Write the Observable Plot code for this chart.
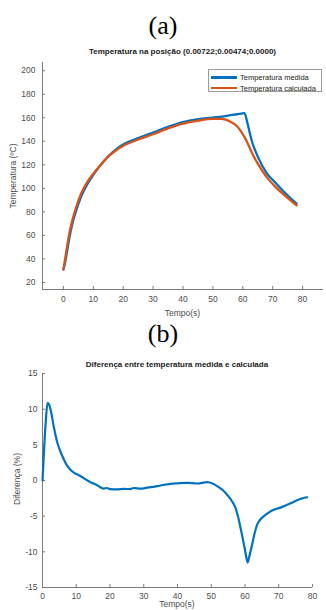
<!DOCTYPE html>
<html>
<head>
<meta charset="utf-8">
<script src="https://cdn.jsdelivr.net/npm/d3@7"></script>
<script src="https://cdn.jsdelivr.net/npm/@observablehq/plot@0.6"></script>
<style>
  body { margin:0; width:326px; height:610px; position:relative; overflow:hidden; background:#fff; font-family:"Liberation Sans", Arial, sans-serif; }
  .abs { position:absolute; white-space:nowrap; }
  .panel { font-family:"Liberation Serif", "Times New Roman", serif; font-size:26px; line-height:26px; width:326px; left:0; text-align:center; color:#000; }
  .title { font-weight:bold; font-size:8px; line-height:10px; color:#1a1a1a; text-align:center; }
  .lab { font-size:8.5px; line-height:10px; color:#4d4d4d; text-align:center; }
  .ylab { width:200px; transform:rotate(-90deg); transform-origin:center center; }
  svg { position:absolute; left:0; }
</style>
</head>
<body>
<script>
// ---- Data ----
// (a) temperature at position
const timeA = [0, 0.5, 1, 2, 3, 4, 6, 8, 10, 12, 15, 18, 21, 25, 30, 35, 40, 45, 50, 53, 56, 58, 60, 60.6, 61.5, 63, 65, 68, 71, 74, 78];
const tempMeasured = [31, 36, 43, 58, 70, 79, 93.5, 103.5, 111.5, 118.5, 127.3, 134, 138.7, 142.8, 147.4, 152.4, 156.4, 158.8, 160.2, 161, 162.3, 163, 163.8, 164, 156, 140.5, 127, 113, 104.5, 96.5, 87];
const tempCalculated = [31, 39, 47, 62, 73, 82, 96, 105.5, 112.5, 118.5, 127, 133, 137.5, 141.5, 146, 151, 155, 157.5, 159, 159, 156.5, 153, 146, 143.5, 139, 130.5, 121, 109.5, 101, 94, 85.5];
const seriesNames = ["Temperatura medida", "Temperatura calculada"];
const xTicksA = [0, 10, 20, 30, 40, 50, 60, 70, 80];
const yTicksA = [20, 40, 60, 80, 100, 120, 140, 160, 180, 200];
const xDomainA = [-7, 87];
const yDomainA = [14, 207];

// (b) difference (%)
const timeB = [0, 0.5, 1, 1.5, 2, 2.5, 3.4, 4.4, 5.2, 5.9, 7.4, 8.5, 9.4, 10.5, 11.3, 12.3, 13.3, 14.5, 15.8, 17, 18.2, 19, 20, 22, 24.1, 26, 27, 29.1, 31, 34, 36, 38, 40, 42.9, 45.9, 48.8, 50.5, 51.8, 53.3, 54.7, 56, 57.2, 58, 58.7, 59.4, 59.9, 60.4, 60.8, 61.3, 62.1, 62.8, 63.6, 64.5, 65.6, 67, 68.5, 70.5, 72.5, 74, 75.4, 77, 78.4];
const diffPct = [0, 4.6, 8.5, 10.9, 10.6, 9.7, 7.4, 5.3, 4.2, 3.4, 2.0, 1.4, 1.07, 0.8, 0.6, 0.3, 0.0, -0.3, -0.56, -0.9, -1.13, -1.05, -1.2, -1.25, -1.18, -1.2, -1.05, -1.15, -1.0, -0.8, -0.6, -0.47, -0.4, -0.33, -0.42, -0.24, -0.45, -0.8, -1.3, -2.0, -2.8, -3.85, -5.2, -6.7, -8.3, -9.5, -10.8, -11.5, -10.6, -9.0, -7.5, -6.2, -5.5, -5.0, -4.5, -4.1, -3.8, -3.4, -3.1, -2.77, -2.5, -2.35];
const xTicksB = [0, 10, 20, 30, 40, 50, 60, 70, 80];
const yTicksB = [-15, -10, -5, 0, 5, 10, 15];
const xDomainB = [0, 80];
const yDomainB = [-15, 15];

const colors = ["#0072BD", "#D95319"];
const axisColor = "#7a7a7a";
const textColor = "#4d4d4d";

// ---- Build (a) ----
const dataA = [];
timeA.forEach((t, i) => {
  dataA.push({t, v: tempMeasured[i], s: seriesNames[0]});
});
timeA.forEach((t, i) => {
  dataA.push({t, v: tempCalculated[i], s: seriesNames[1]});
});

const fmt = d => String(d);

const plotA = Plot.plot({
  width: 326, height: 275,
  marginTop: 17, marginBottom: 31, marginLeft: 42, marginRight: 3,
  style: {fontFamily: "Liberation Sans, Arial, sans-serif", fontSize: "8.5px", color: textColor, background: "transparent", overflow: "visible"},
  x: {domain: xDomainA, label: null},
  y: {domain: yDomainA, label: null},
  marks: [
    Plot.axisX({ticks: xTicksA, tickSize: 3, dy: -3, tickFormat: () => "", label: null, stroke: axisColor}),
    Plot.axisX({ticks: xTicksA, tickSize: 0, tickPadding: 6, tickFormat: fmt, label: null, fill: textColor}),
    Plot.axisY({ticks: yTicksA, tickSize: 3, dx: 3, tickFormat: () => "", label: null, stroke: axisColor}),
    Plot.axisY({ticks: yTicksA, tickSize: 0, tickPadding: 7, tickFormat: fmt, label: null, fill: textColor}),
    Plot.ruleX([xDomainA[0]], {stroke: axisColor}),
    Plot.ruleY([yDomainA[0]], {stroke: axisColor}),
    Plot.line(dataA, {x: "t", y: "v", z: "s", stroke: d => d.s === seriesNames[0] ? colors[0] : colors[1], strokeWidth: 2.3, curve: "monotone-x"})
  ]
});
plotA.style.top = "45px";
document.body.appendChild(plotA);

// ---- Build (b) ----
const dataB = timeB.map((t, i) => ({t, v: diffPct[i]}));
const plotB = Plot.plot({
  width: 326, height: 260,
  marginTop: 23, marginBottom: 23, marginLeft: 42, marginRight: 14,
  style: {fontFamily: "Liberation Sans, Arial, sans-serif", fontSize: "8.5px", color: textColor, background: "transparent", overflow: "visible"},
  x: {domain: xDomainB, label: null},
  y: {domain: yDomainB, label: null},
  marks: [
    Plot.axisX({ticks: xTicksB, tickSize: 3, dy: -3, tickFormat: () => "", label: null, stroke: axisColor}),
    Plot.axisX({ticks: xTicksB, tickSize: 0, tickPadding: 5, tickFormat: fmt, label: null, fill: textColor}),
    Plot.axisY({ticks: yTicksB, tickSize: 3, dx: 3, tickFormat: () => "", label: null, stroke: axisColor}),
    Plot.axisY({ticks: yTicksB, tickSize: 0, tickPadding: 5, tickFormat: fmt, label: null, fill: textColor}),
    Plot.ruleX([xDomainB[0]], {stroke: axisColor}),
    Plot.ruleY([yDomainB[0]], {stroke: axisColor}),
    Plot.line(dataB, {x: "t", y: "v", stroke: colors[0], strokeWidth: 2.2, curve: "monotone-x"})
  ]
});
plotB.style.top = "350px";
document.body.appendChild(plotB);

// ---- Text ----
function addDiv(cls, text, css) {
  const d = document.createElement("div");
  d.className = "abs " + cls;
  d.textContent = text;
  Object.assign(d.style, css);
  document.body.appendChild(d);
  return d;
}
addDiv("panel", "(a)", {top: "13px"});
addDiv("panel", "(b)", {top: "321px"});
addDiv("title", "Temperatura na posição (0.00722;0.00474;0.0000)", {left: "42px", width: "281px", top: "47px"});
addDiv("title", "Diferença entre temperatura medida e calculada", {left: "42px", width: "270px", top: "360px"});
addDiv("lab", "Tempo(s)", {left: "42px", width: "281px", top: "308px"});
addDiv("lab", "Tempo(s)", {left: "42px", width: "270px", top: "599px"});
addDiv("lab ylab", "Temperatura (ºC)", {left: (13 - 100) + "px", top: (176 - 5) + "px"});
addDiv("lab ylab", "Diferença (%)", {left: (17 - 100) + "px", top: (479 - 5) + "px"});

// legend
const leg = document.createElement("div");
leg.className = "abs";
Object.assign(leg.style, {left: "208px", top: "69px", width: "114px", height: "23px", border: "1px solid #9a9a9a", background: "#fff", boxSizing: "border-box"});
seriesNames.forEach((name, i) => {
  const row = document.createElement("div");
  Object.assign(row.style, {position: "absolute", left: "2px", top: (3 + i * 10.5) + "px", height: "9px", display: "flex", alignItems: "center", whiteSpace: "nowrap"});
  const sw = document.createElement("div");
  Object.assign(sw.style, {width: "26px", height: "2.3px", background: colors[i], marginRight: "3px"});
  const tx = document.createElement("span");
  tx.textContent = name;
  Object.assign(tx.style, {fontSize: "7.5px", color: "#222", lineHeight: "9px"});
  row.appendChild(sw); row.appendChild(tx);
  leg.appendChild(row);
});
document.body.appendChild(leg);
</script>
</body>
</html>
